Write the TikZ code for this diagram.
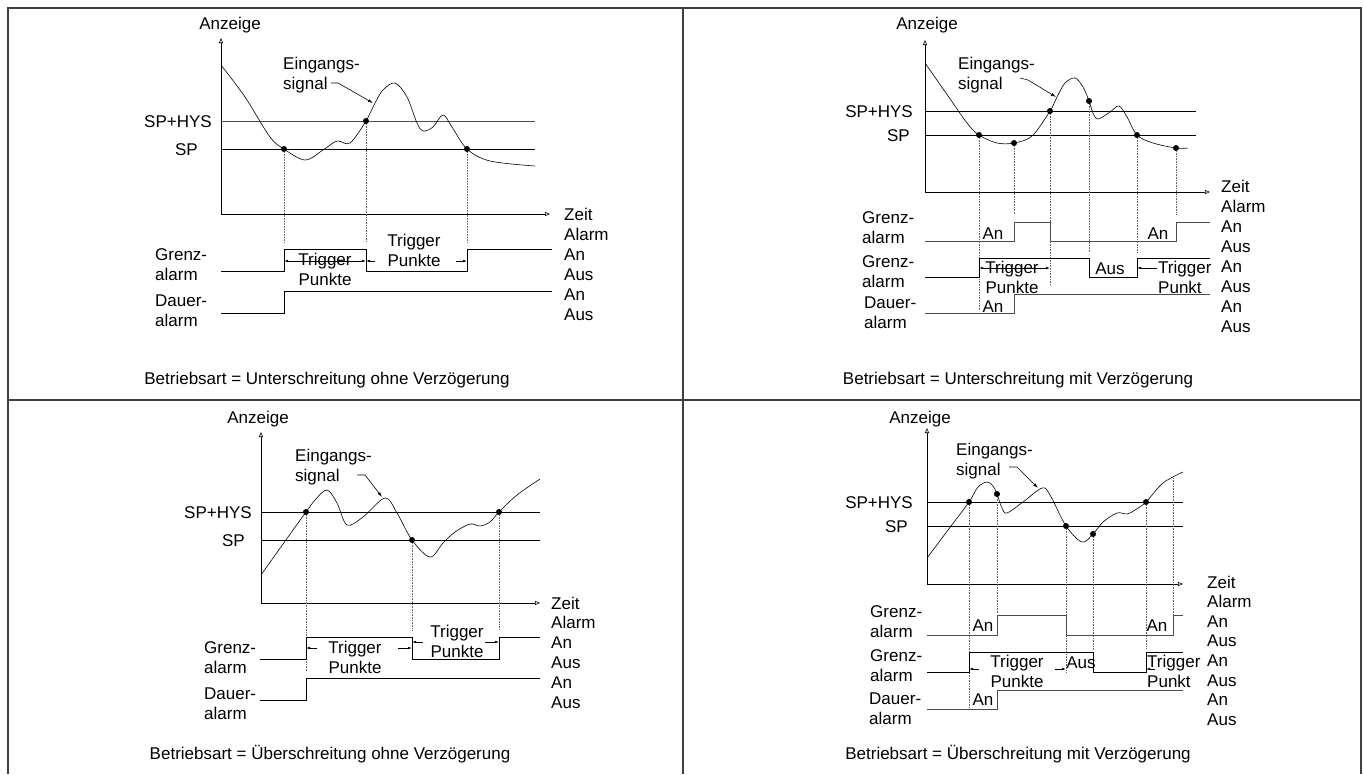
\documentclass[tikz,border=0pt]{standalone}
\usepackage{fontspec}
\setmainfont{Liberation Sans}
\usetikzlibrary{arrows.meta}

\begin{document}
\begin{tikzpicture}[x=1pt,y=-1pt,font=\fontsize{17}{19.5}\selectfont,
  lbl/.style={inner sep=0pt,align=left,anchor=base west},
  lblr/.style={inner sep=0pt,anchor=base east},
  ctr/.style={inner sep=0pt,align=center,anchor=base},
  frm/.style={line width=1.3pt,draw=black!75},
  axes/.style={line width=0.6pt,{Triangle[open,length=5pt,width=4pt]}-{Triangle[open,length=5pt,width=4pt]}},
  lvl/.style={line width=0.7pt},
  sig/.style={line width=0.8pt},
  curve/.style={line width=0.6pt,smooth,tension=0.55},
  dotv/.style={densely dotted,line width=0.6pt,draw=black!60},
  spt/.style={circle,fill,inner sep=0pt,minimum size=6pt},
  lead/.style={line width=0.6pt,-{Latex[length=5pt,width=3pt]}},
  dimr/.style={line width=0.6pt,-{Latex[length=4pt,width=2.5pt]}},
  dimb/.style={line width=0.6pt,{Latex[length=4pt,width=2.5pt]}-{Latex[length=4pt,width=2.5pt]}}]
\useasboundingbox (0,0) rectangle (1364,774);
% Rahmen
\draw[frm] (8,774) -- (8,8) -- (1361,8) -- (1361,774);
\draw[frm] (683,8) -- (683,774);
\draw[frm] (8,400) -- (1361,400);

% Unterschreitung ohne Verzoegerung
\node[ctr] (anz1) at (230,29) {Anzeige};
\draw[axes] (221,38) -- (221,214) -- (550,214);
\draw[lvl,draw=black!70] (221,121) -- (535,121);
\draw[lvl] (221,149) -- (535,149);
\node[lblr] (hys1) at (212,127) {SP+HYS};
\node[lblr] (sp1) at (198,155) {SP};
\draw[curve] plot coordinates {(221,65) (245,97) (270,137) (284,149) (305,160) (323,150) (337,141) (350,143) (366,121) (375,103) (383,90) (395,83) (407,97) (417,123) (423,131) (433,127) (443,115) (452,127) (467,149) (490,161) (535,166)};
\node[lbl] (ein1) at (283,89) {Eingangs-\\signal};
\draw[lead] (331,83) -- (338,83) -- (373,103);
\foreach \n/\x/\y in {a/284/149,b/366/121,c/467/149}
  \node[spt] (p1\n) at (\x,\y) {};
\foreach \n in {a,b,c}
  \draw[dotv] (p1\n) -- (p1\n |- 0,242);
\node[lbl] (gr1) at (155,280) {Grenz-\\alarm};
\node[lbl] (da1) at (155,326) {Dauer-\\alarm};
\draw[sig] (221,271) -| (284,249) -| (366,271) -| (467,249) -- (552,249);
\draw[sig] (221,313) -| (284,291) -- (552,291);
\node[ctr] (tr1a) at (325,285) {Trigger\\Punkte};
\draw[dimb] (284,261) -- (366,261);
\node[ctr] (tr1b) at (414,266) {Trigger\\Punkte};
\draw[dimr] (375,261) -- (366,261);
\draw[dimr] (456,261) -- (467,261);
\foreach \t [count=\i from 0] in {Zeit,Alarm,An,Aus,An,Aus}
  \node[lbl] (r1-\i) at (564,220+20*\i) {\t};
\node[ctr] (cap1) at (327,384) {Betriebsart = Unterschreitung ohne Verzögerung};

% Unterschreitung mit Verzoegerung
\node[ctr] (anz2) at (927,29) {Anzeige};
\draw[axes] (925,40) -- (925,192) -- (1210,192);
\draw[lvl] (925,111) -- (1196,111);
\draw[lvl] (925,135) -- (1196,135);
\node[lblr] (hys2) at (913,117) {SP+HYS};
\node[lblr] (sp2) at (910,141) {SP};
\draw[curve] plot coordinates {(925,63) (946,93) (967,123) (979,135) (997,143) (1014,143) (1032,136) (1050,111) (1057,97) (1065,83) (1075,78) (1083,87) (1089,101) (1093,113) (1098,119) (1110,112) (1119,106) (1127,117) (1137,135) (1153,143) (1176,148) (1188,148)};
\node[lbl] (ein2) at (958,89) {Eingangs-\\signal};
\draw[lead] (1020,78) -- (1028,80) -- (1056,97);
\foreach \n/\x/\y/\e in {a/979/135/310,b/1014/143/215,c/1050/111/285,d/1089/101/252,e/1137/135/252,f/1176/148/215}{
  \node[spt] (p2\n) at (\x,\y) {};
  \draw[dotv] (p2\n) -- (\x,\e);
}
\node[lbl] (gr2a) at (862,243) {Grenz-\\alarm};
\node[lbl] (gr2b) at (862,287) {Grenz-\\alarm};
\node[lbl] (da2) at (864,328) {Dauer-\\alarm};
\draw[sig,draw=black!70] (925,241) -| (1014,222) -| (1050,241) -| (1176,222) -- (1210,222);
\draw[sig] (925,277) -| (979,258) -| (1089,277) -| (1137,258) -- (1210,258);
\draw[sig,draw=black!70] (925,313) -| (1014,294) -- (1210,294);
\node[ctr] (an2a) at (993,239) {An};
\node[ctr] (an2b) at (1158,239) {An};
\node[ctr] (an2c) at (993,312) {An};
\node[ctr] (tr2a) at (1012,293) {Trigger\\Punkte};
\draw[dimb] (979,268) -- (1050,268);
\node[ctr] (aus2) at (1110,274) {Aus};
\node[lbl] (tr2b) at (1158,293) {Trigger\\Punkt};
\draw[dimr] (1157,268) -- (1137,268);
\foreach \t [count=\i from 0] in {Zeit,Alarm,An,Aus,An,Aus,An,Aus}
  \node[lbl] (r2-\i) at (1221,192+20*\i) {\t};
\node[ctr] (cap2) at (1018,384) {Betriebsart = Unterschreitung mit Verzögerung};

% Ueberschreitung ohne Verzoegerung
\node[ctr] (anz3) at (258,423) {Anzeige};
\draw[axes] (261,432) -- (261,603) -- (540,603);
\draw[lvl] (261,512) -- (540,512);
\draw[lvl] (261,540) -- (540,540);
\node[lblr] (hys3) at (252,518) {SP+HYS};
\node[lblr] (sp3) at (245,546) {SP};
\draw[curve] plot coordinates {(261,575) (283,544) (306,512) (315,500) (327,490) (337,503) (347,525) (363,517) (385,498) (397,513) (412,540) (430,557) (443,543) (455,532) (470,524) (480,526) (490,522) (499,512) (517,495) (540,479)};
\node[lbl] (ein3) at (295,481) {Eingangs-\\signal};
\draw[lead] (357,475) -- (365,475) -- (382,497);
\foreach \n/\x/\y/\e in {a/306/512/672,b/412/540/630,c/499/512/630}{
  \node[spt] (p3\n) at (\x,\y) {};
  \draw[dotv] (p3\n) -- (\x,\e);
}
\node[lbl] (gr3) at (204,673) {Grenz-\\alarm};
\node[lbl] (da3) at (204,719) {Dauer-\\alarm};
\draw[sig] (260,659) -| (306,637) -| (412,659) -| (499,637) -- (540,637);
\draw[sig] (260,700) -| (306,678) -- (540,678);
\node[ctr] (tr3a) at (355,673) {Trigger\\Punkte};
\draw[dimr] (317,648) -- (306,648);
\draw[dimr] (398,648) -- (412,648);
\node[ctr] (tr3b) at (457,657) {Trigger\\Punkte};
\draw[dimr] (423,642) -- (412,642);
\draw[dimr] (485,642) -- (499,642);
\foreach \t [count=\i from 0] in {Zeit,Alarm,An,Aus,An,Aus}
  \node[lbl] (r3-\i) at (551,609+19.8*\i) {\t};
\node[ctr] (cap3) at (330,759) {Betriebsart = Überschreitung ohne Verzögerung};

% Ueberschreitung mit Verzoegerung
\node[ctr] (anz4) at (920,423) {Anzeige};
\draw[axes] (927,428) -- (927,584) -- (1183,584);
\draw[lvl] (927,502) -- (1183,502);
\draw[lvl] (927,526) -- (1183,526);
\node[lblr] (hys4) at (913,508) {SP+HYS};
\node[lblr] (sp4) at (908,532) {SP};
\draw[curve] plot coordinates {(927,558) (948,530) (969,502) (978,487) (987,482) (993,486) (997,494) (1002,508) (1007,513) (1023,502) (1042,488) (1050,495) (1066,526) (1082,542) (1093,534) (1103,522) (1117,513) (1127,514) (1135,510) (1146,502) (1163,483) (1183,472)};
\node[lbl] (ein4) at (956,475) {Eingangs-\\signal};
\draw[lead] (1009,467) -- (1017,467) -- (1038,488);
\foreach \n/\x/\y/\e in {a/969/502/708,b/997/494/613,c/1066/526/672,d/1093/534/650,e/1146/502/648}{
  \node[spt] (p4\n) at (\x,\y) {};
  \draw[dotv] (p4\n) -- (\x,\e);
}
\coordinate (p4f) at (1173,478);
\draw[dotv] (p4f) -- (1173,632);
\node[lbl] (gr4a) at (870,637) {Grenz-\\alarm};
\node[lbl] (gr4b) at (870,681) {Grenz-\\alarm};
\node[lbl] (da4) at (869,724) {Dauer-\\alarm};
\draw[sig,draw=black!70] (927,635) -| (997,615) -| (1066,635) -| (1173,615) -- (1183,615);
\draw[sig] (927,672) -| (969,652) -| (1093,672) -| (1146,652) -- (1183,652);
\draw[sig,draw=black!70] (927,709) -| (997,690) -- (1183,690);
\node[ctr] (an4a) at (983,631) {An};
\node[ctr] (an4b) at (1157,631) {An};
\node[ctr] (an4c) at (983,705) {An};
\node[ctr] (tr4a) at (1017,687) {Trigger\\Punkte};
\draw[dimr] (979,669) -- (969,669);
\draw[dimr] (1055,669) -- (1066,669);
\node[ctr] (aus4) at (1081,668) {Aus};
\node[lbl] (tr4b) at (1147,687) {Trigger\\Punkt};
\draw[dimr] (1155,669) -- (1146,669);
\foreach \t [count=\i from 0] in {Zeit,Alarm,An,Aus,An,Aus,An,Aus}
  \node[lbl] (r4-\i) at (1207,588+19.6*\i) {\t};
\node[ctr] (cap4) at (1018,759) {Betriebsart = Überschreitung mit Verzögerung};
\end{tikzpicture}
\end{document}
